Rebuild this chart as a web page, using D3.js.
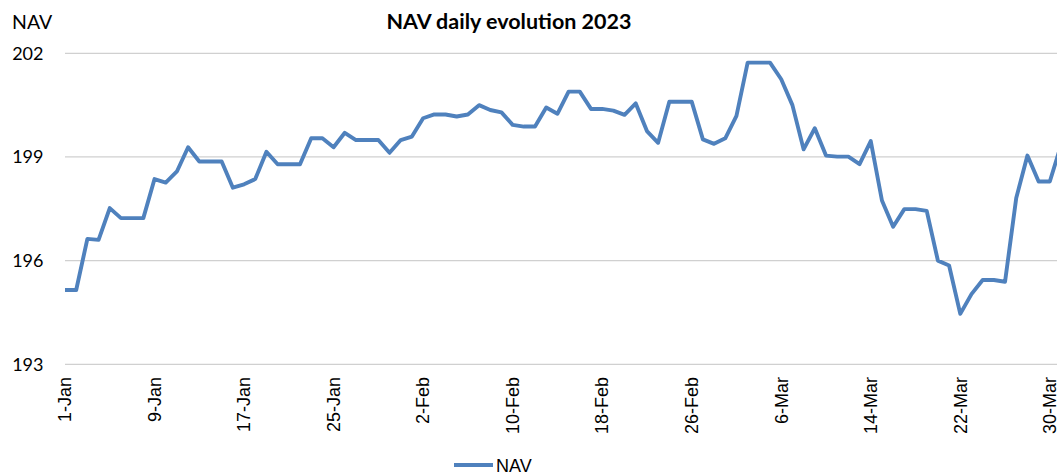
<!DOCTYPE html>
<html>
<head>
<meta charset="utf-8">
<script src="https://cdn.jsdelivr.net/npm/d3@7"></script>
<style>
  body { margin: 0; background: #fff; overflow: hidden; }
  #chart svg { display: block; }
</style>
</head>
<body>
<div id="chart"></div>
<script>
// Data
const startDate = "2023-01-01";
const navValues = [
  195.15, 195.15, 196.63, 196.60, 197.52, 197.23, 197.23, 197.23, 198.36, 198.26,
  198.58, 199.28, 198.87, 198.87, 198.87, 198.11, 198.21, 198.36, 199.15, 198.79,
  198.79, 198.79, 199.54, 199.54, 199.28, 199.70, 199.49, 199.49, 199.49, 199.12,
  199.49, 199.59, 200.12, 200.23, 200.23, 200.17, 200.23, 200.50, 200.36, 200.29,
  199.93, 199.88, 199.88, 200.43, 200.25, 200.89, 200.89, 200.39, 200.39, 200.34,
  200.22, 200.55, 199.75, 199.41, 200.60, 200.60, 200.60, 199.51, 199.38, 199.54,
  200.19, 201.73, 201.73, 201.73, 201.25, 200.50, 199.22, 199.83, 199.04, 199.01,
  199.01, 198.79, 199.46, 197.74, 196.98, 197.49, 197.49, 197.44, 196.00, 195.86,
  194.46, 195.03, 195.44, 195.44, 195.39, 197.81, 199.04, 198.29, 198.29, 199.34
];
const xTickLabels = ["1-Jan", "9-Jan", "17-Jan", "25-Jan", "2-Feb", "10-Feb",
  "18-Feb", "26-Feb", "6-Mar", "14-Mar", "22-Mar", "30-Mar"];
const yTicks = [193, 196, 199, 202];
const title = "NAV daily evolution 2023";
const seriesName = "NAV";

const width = 1057;
const height = 472;
const plot = { left: 65, right: 1061, top: 53.3, bottom: 364.3 };
const lineColor = "#4f81bd";

const start = d3.utcParse("%Y-%m-%d")(startDate);
const dates = navValues.map((v, i) => d3.utcDay.offset(start, i));
const data = dates.map((d, i) => ({ date: d, value: navValues[i] }));
const parseTick = d3.utcParse("%d-%b-%Y");

const x = d3.scaleUtc()
    .domain([dates[0], dates[dates.length - 1]])
    .range([plot.left, plot.right]);

const y = d3.scaleLinear()
    .domain([193, 202])
    .range([plot.bottom, plot.top]);

const svg = d3.select("#chart")
    .append("svg")
    .attr("width", width)
    .attr("height", height);

// gridlines
svg.append("g")
    .selectAll("line")
    .data(yTicks)
    .enter()
    .append("line")
    .attr("x1", plot.left)
    .attr("x2", width)
    .attr("y1", d => y(d))
    .attr("y2", d => y(d))
    .attr("stroke", "#d0d0d0")
    .attr("stroke-width", 1.3);

// y labels
svg.append("g")
    .selectAll("text")
    .data(yTicks)
    .enter()
    .append("text")
    .attr("x", 43.5)
    .attr("y", d => y(d))
    .attr("dy", "0.35em")
    .attr("text-anchor", "end")
    .style("font-family", "Lato, 'Open Sans', sans-serif")
    .style("font-size", "18px")
    .style("fill", "#000")
    .text(d => d);

// x labels (rotated)
svg.append("g")
    .selectAll("text")
    .data(xTickLabels)
    .enter()
    .append("text")
    .attr("transform", d => `translate(${x(parseTick(d + "-2023"))}, 377) rotate(-90)`)
    .attr("dy", "0.35em")
    .attr("text-anchor", "end")
    .style("font-family", "'Liberation Sans', Arial, sans-serif")
    .style("font-size", "18px")
    .style("fill", "#000")
    .text(d => d);

// line
const line = d3.line()
    .x(d => x(d.date))
    .y(d => y(d.value));

svg.append("path")
    .datum(data)
    .attr("d", line)
    .attr("fill", "none")
    .attr("stroke", lineColor)
    .attr("stroke-width", 3.9)
    .attr("stroke-linejoin", "round");

// title and axis name
svg.append("text")
    .attr("x", 509)
    .attr("y", 29.3)
    .attr("text-anchor", "middle")
    .style("font-family", "Lato, 'Open Sans', sans-serif")
    .style("font-size", "21.5px")
    .style("font-weight", "bold")
    .style("fill", "#000")
    .text(title);

svg.append("text")
    .attr("x", 12)
    .attr("y", 29.3)
    .style("font-family", "Lato, 'Open Sans', sans-serif")
    .style("font-size", "19.5px")
    .style("fill", "#000")
    .text(seriesName);

// legend
const legend = svg.append("g");
legend.append("line")
    .attr("x1", 454)
    .attr("x2", 493)
    .attr("y1", 465)
    .attr("y2", 465)
    .attr("stroke", lineColor)
    .attr("stroke-width", 4);
legend.append("text")
    .attr("x", 496)
    .attr("y", 471.5)
    .style("font-family", "'Liberation Sans', Arial, sans-serif")
    .style("font-size", "18px")
    .style("fill", "#000")
    .text(seriesName);
</script>
</body>
</html>
